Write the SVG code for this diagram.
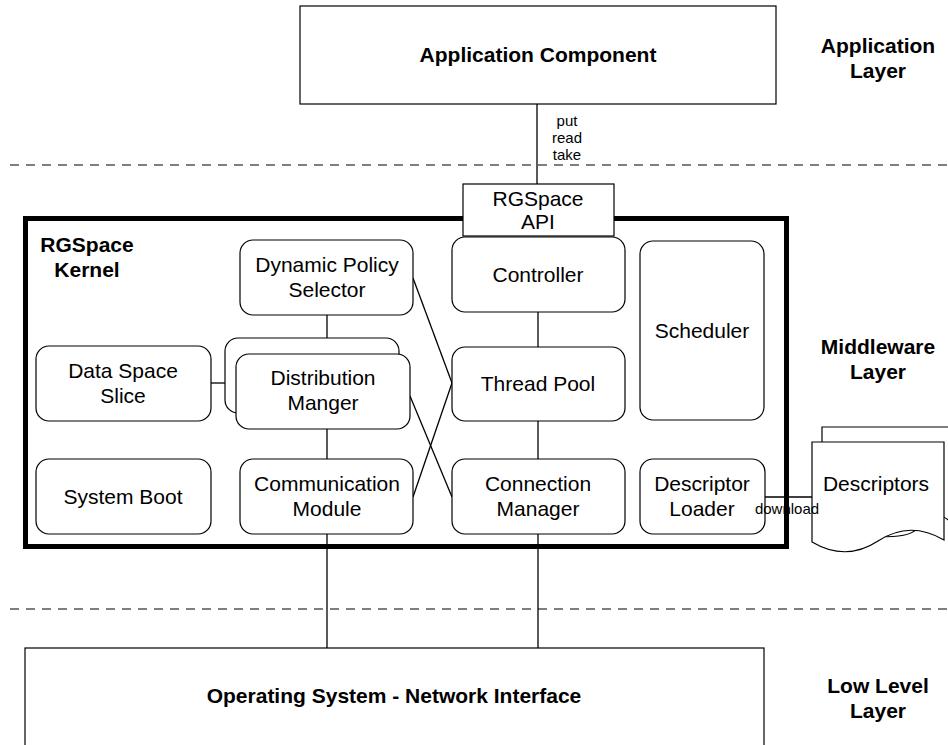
<svg xmlns="http://www.w3.org/2000/svg" width="948" height="745" viewBox="0 0 948 745">
<style>
text{font-family:"Liberation Sans",Arial,sans-serif;fill:#000}
.lbl{font-size:21px;text-anchor:middle}
.b{font-weight:bold}
.box{fill:#fff;stroke:#000;stroke-width:1.2}
.ln{stroke:#000;stroke-width:1.3;fill:none}
.dash{stroke:#000;stroke-width:1.2;stroke-dasharray:9 7;fill:none}
.sm{font-size:15px;text-anchor:middle}
</style>
<rect width="948" height="745" fill="#fff"/>
<g id="dividers">
<line class="dash" x1="10" y1="165" x2="948" y2="165"/>
<line class="dash" x1="10" y1="609" x2="948" y2="609"/>
</g>
<g id="layer-labels">
<text class="lbl b" x="878" y="53">Application</text>
<text class="lbl b" x="878" y="78">Layer</text>
<text class="lbl b" x="878" y="354">Middleware</text>
<text class="lbl b" x="878" y="379">Layer</text>
<text class="lbl b" x="878" y="693">Low Level</text>
<text class="lbl b" x="878" y="718">Layer</text>
</g>
<g id="connectors">
<line class="ln" x1="537" y1="104" x2="537" y2="184"/>
<line class="ln" x1="327" y1="315" x2="327" y2="338"/>
<line class="ln" x1="327" y1="429" x2="327" y2="459"/>
<line class="ln" x1="211" y1="383" x2="225" y2="383"/>
<line class="ln" x1="538" y1="312" x2="538" y2="347"/>
<line class="ln" x1="538" y1="421" x2="538" y2="459"/>
<line class="ln" x1="327" y1="534" x2="327" y2="648"/>
<line class="ln" x1="538" y1="534" x2="538" y2="648"/>
<line class="ln" x1="413" y1="278" x2="452" y2="383"/>
<line class="ln" x1="452" y1="383" x2="413" y2="497"/>
<line class="ln" x1="410" y1="396" x2="452" y2="497"/>
<line class="ln" x1="765" y1="497" x2="812" y2="497"/>
</g>
<g id="app-component">
<rect class="box" x="300" y="6" width="476" height="98"/>
<text class="lbl b" x="538" y="62">Application Component</text>
</g>
<g id="api-label">
<text class="sm" x="567" y="126">put</text>
<text class="sm" x="567" y="143">read</text>
<text class="sm" x="567" y="160">take</text>
</g>
<g id="kernel">
<rect x="25.5" y="218.5" width="761" height="328" fill="none" stroke="#000" stroke-width="5"/>
<text class="lbl b" x="87" y="252">RGSpace</text>
<text class="lbl b" x="87" y="277">Kernel</text>
</g>
<g id="api">
<rect class="box" x="463" y="184" width="151" height="52"/>
<text class="lbl" x="538" y="206">RGSpace</text>
<text class="lbl" x="538" y="229">API</text>
</g>
<g id="policy">
<rect class="box" x="240" y="240" width="173" height="75" rx="13"/>
<text class="lbl" x="327" y="272">Dynamic Policy</text>
<text class="lbl" x="327" y="297">Selector</text>
</g>
<g id="controller">
<rect class="box" x="452" y="237" width="173" height="75" rx="13"/>
<text class="lbl" x="538" y="282">Controller</text>
</g>
<g id="scheduler">
<rect class="box" x="640" y="241" width="124" height="179" rx="13"/>
<text class="lbl" x="702" y="338">Scheduler</text>
</g>
<g id="dataspace">
<rect class="box" x="36" y="346" width="175" height="75" rx="13"/>
<text class="lbl" x="123" y="378">Data Space</text>
<text class="lbl" x="123" y="403">Slice</text>
</g>
<g id="distribution">
<rect class="box" x="225" y="338" width="174" height="75" rx="13"/>
<rect class="box" x="236" y="354" width="174" height="75" rx="13"/>
<text class="lbl" x="323" y="385">Distribution</text>
<text class="lbl" x="323" y="410">Manger</text>
</g>
<g id="threadpool">
<rect class="box" x="452" y="347" width="173" height="74" rx="13"/>
<text class="lbl" x="538" y="391">Thread Pool</text>
</g>
<g id="sysboot">
<rect class="box" x="36" y="459" width="175" height="75" rx="13"/>
<text class="lbl" x="123" y="504">System Boot</text>
</g>
<g id="comm">
<rect class="box" x="240" y="459" width="173" height="75" rx="13"/>
<text class="lbl" x="327" y="491">Communication</text>
<text class="lbl" x="327" y="516">Module</text>
</g>
<g id="connmgr">
<rect class="box" x="452" y="459" width="173" height="75" rx="13"/>
<text class="lbl" x="538" y="491">Connection</text>
<text class="lbl" x="538" y="516">Manager</text>
</g>
<g id="loader">
<rect class="box" x="640" y="459" width="125" height="75" rx="13"/>
<text class="lbl" x="702" y="491">Descriptor</text>
<text class="lbl" x="702" y="516">Loader</text>
</g>
<g id="descriptors">
<path class="box" d="M822,427 H954 V525 Q935,505 920,526 T822,527 Z"/>
<path class="box" d="M812,442 H944 V540 Q910,520 878,541 Q846,562 812,542 Z"/>
<text class="lbl" x="876" y="491">Descriptors</text>
</g>
<g id="download-label">
<text x="787" y="514" font-size="15" text-anchor="middle">download</text>
</g>
<g id="os">
<rect class="box" x="25" y="648" width="739" height="120"/>
<text class="lbl b" x="394" y="703">Operating System - Network Interface</text>
</g>
</svg>
